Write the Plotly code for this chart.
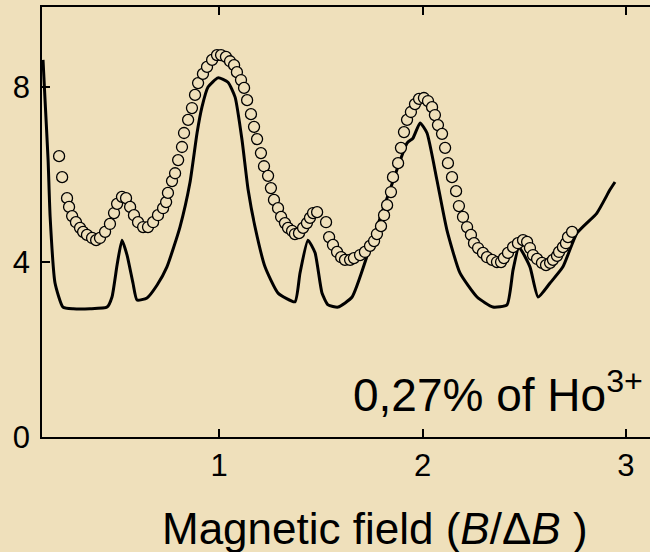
import plotly.graph_objects as go

# ---- data ----
line_x = [0.135, 0.145, 0.160, 0.170, 0.194, 0.233, 0.283, 0.366, 0.450, 0.474, 0.499, 0.523,
          0.548, 0.577, 0.597, 0.646, 0.695, 0.744, 0.808, 0.857, 0.892, 0.916, 0.946, 0.995,
          1.044, 1.079, 1.113, 1.143, 1.177, 1.226, 1.290, 1.373, 1.398, 1.437, 1.472, 1.506,
          1.536, 1.585, 1.654, 1.742, 1.840, 1.924, 1.953, 1.988, 2.022, 2.071, 2.120, 2.184,
          2.268, 2.346, 2.415, 2.445, 2.474, 2.528, 2.568, 2.627, 2.690, 2.759, 2.857, 2.921, 2.946]
line_y = [8.62, 7.70, 6.33, 5.03, 3.52, 2.97, 2.93, 2.93, 2.97, 3.20, 3.93, 4.50,
          4.16, 3.52, 3.13, 3.18, 3.47, 3.89, 4.80, 5.81, 6.95, 7.54, 8.00, 8.21,
          8.11, 7.77, 6.79, 5.65, 4.80, 3.89, 3.29, 3.09, 3.75, 4.50, 4.21, 3.29,
          3.02, 2.97, 3.20, 4.34, 5.65, 6.72, 6.83, 7.18, 6.95, 5.87, 4.73, 3.75,
          3.20, 2.97, 3.02, 3.82, 4.34, 3.89, 3.20, 3.52, 3.89, 4.66, 5.12, 5.65, 5.83]

circ_x = [0.214, 0.229, 0.253, 0.263, 0.278, 0.297, 0.317, 0.332, 0.351, 0.376, 0.396, 0.415,
          0.440, 0.464, 0.484, 0.499, 0.523, 0.543, 0.563, 0.582, 0.602, 0.627, 0.651, 0.676,
          0.700, 0.725, 0.740, 0.749, 0.769, 0.784, 0.799, 0.818, 0.828, 0.848, 0.867, 0.882,
          0.897, 0.921, 0.941, 0.966, 0.990, 1.010, 1.034, 1.054, 1.074, 1.088, 1.108, 1.123,
          1.138, 1.157, 1.172, 1.187, 1.206, 1.221, 1.241, 1.255, 1.270, 1.290, 1.305, 1.324,
          1.339, 1.359, 1.373, 1.393, 1.413, 1.432, 1.447, 1.462, 1.482, 1.526, 1.541, 1.560,
          1.580, 1.600, 1.619, 1.644, 1.663, 1.693, 1.717, 1.742, 1.762, 1.776, 1.796, 1.811,
          1.826, 1.845, 1.855, 1.880, 1.894, 1.909, 1.924, 1.943, 1.963, 1.983, 2.007, 2.027,
          2.047, 2.061, 2.076, 2.096, 2.111, 2.125, 2.145, 2.165, 2.179, 2.199, 2.219, 2.238,
          2.253, 2.273, 2.297, 2.317, 2.342, 2.366, 2.386, 2.400, 2.420, 2.445, 2.469, 2.494,
          2.514, 2.528, 2.543, 2.563, 2.587, 2.607, 2.627, 2.641, 2.661, 2.671, 2.690, 2.705,
          2.715, 2.735]
circ_y = [6.42, 5.94, 5.46, 5.26, 5.05, 4.91, 4.78, 4.69, 4.62, 4.55, 4.50, 4.55,
          4.69, 4.87, 5.12, 5.33, 5.49, 5.46, 5.26, 5.07, 4.91, 4.80, 4.80, 4.91,
          5.07, 5.23, 5.37, 5.58, 5.85, 6.03, 6.33, 6.63, 6.95, 7.25, 7.52, 7.82,
          8.09, 8.30, 8.46, 8.62, 8.73, 8.73, 8.69, 8.59, 8.50, 8.34, 8.16, 7.98,
          7.70, 7.38, 7.09, 6.81, 6.49, 6.19, 5.97, 5.69, 5.42, 5.23, 5.03, 4.89,
          4.78, 4.71, 4.64, 4.66, 4.78, 4.89, 5.01, 5.12, 5.14, 4.91, 4.57, 4.39,
          4.23, 4.11, 4.05, 4.05, 4.09, 4.16, 4.23, 4.37, 4.48, 4.64, 4.82, 5.07,
          5.30, 5.60, 5.94, 6.26, 6.61, 6.97, 7.25, 7.43, 7.61, 7.73, 7.75, 7.68,
          7.54, 7.36, 7.13, 6.93, 6.61, 6.26, 5.94, 5.62, 5.28, 5.03, 4.80, 4.62,
          4.43, 4.32, 4.21, 4.11, 4.05, 4.00, 4.00, 4.09, 4.21, 4.34, 4.43, 4.50,
          4.46, 4.32, 4.16, 4.07, 3.98, 3.93, 3.98, 4.05, 4.14, 4.23, 4.34, 4.43,
          4.57, 4.69]

x_ticks = [1, 2, 3]
y_ticks = [0, 4, 8]
x_range = [0.130, 3.118]
y_range = [0, 9.83]

BG = "#EFE0BB"
FONT = "Liberation Sans, Arial, sans-serif"

fig = go.Figure()
fig.add_trace(go.Scatter(
    x=line_x, y=line_y, mode="lines",
    line=dict(color="black", width=3, shape="spline", smoothing=0.5),
    hoverinfo="skip", showlegend=False))
fig.add_trace(go.Scatter(
    x=circ_x, y=circ_y, mode="markers",
    marker=dict(symbol="circle", size=11, color=BG,
                line=dict(color="black", width=1.3)),
    showlegend=False))

axis_common = dict(showline=True, linecolor="black", linewidth=1.5,
                   ticks="inside", ticklen=8, tickwidth=1.5, tickcolor="black",
                   showgrid=False, zeroline=False,
                   tickfont=dict(family=FONT, size=31, color="black"))

fig.update_xaxes(range=x_range, tickvals=x_ticks, ticktext=[str(v) for v in x_ticks],
                 mirror="ticks", **axis_common)
fig.update_yaxes(range=y_range, tickvals=y_ticks, ticktext=[str(v) for v in y_ticks],
                 mirror=False, ticklabelstandoff=4, **axis_common)

fig.add_annotation(xref="paper", yref="paper", x=0.992, y=0.033,
                   xanchor="right", yanchor="bottom", showarrow=False,
                   text="0,27% of Ho<sup>3+</sup>",
                   font=dict(family=FONT, size=46, color="black"))
fig.add_annotation(xref="paper", yref="paper", x=0.547, y=-0.213,
                   xanchor="center", yanchor="middle", showarrow=False,
                   text="Magnetic field (<i>B</i>/Δ<i>B</i> )",
                   font=dict(family=FONT, size=44, color="black"))

fig.update_layout(width=650, height=552, margin=dict(l=42, r=0, t=7, b=115),
                  paper_bgcolor=BG, plot_bgcolor=BG)

fig.write_html("out.html")
